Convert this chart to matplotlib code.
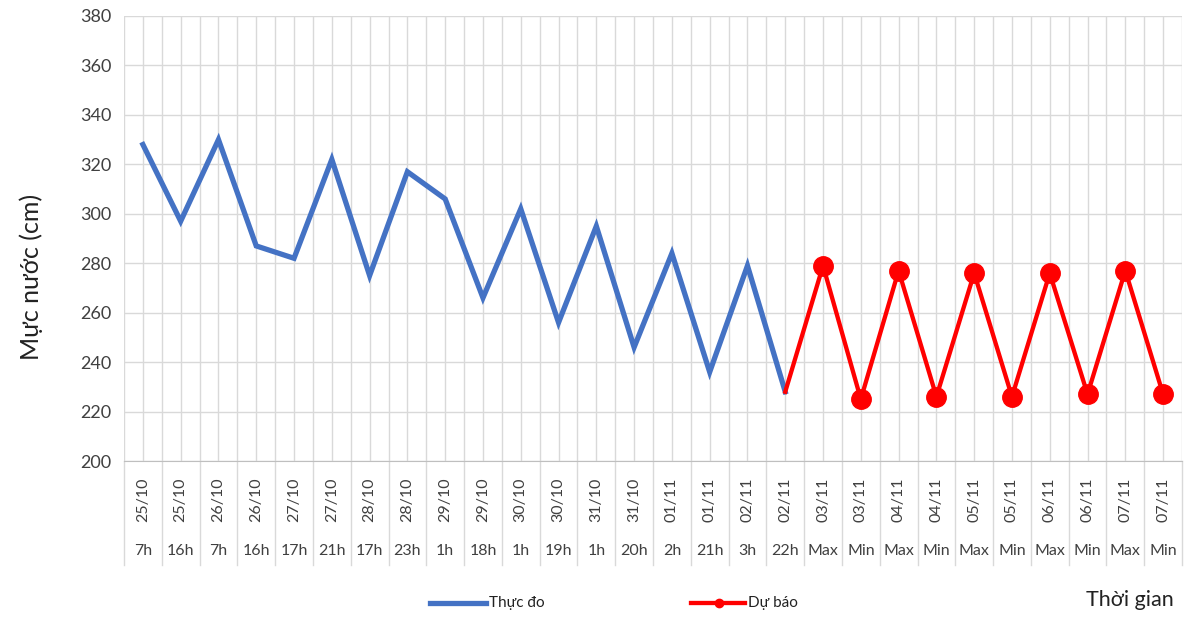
import matplotlib
matplotlib.use("Agg")
import matplotlib.pyplot as plt
from matplotlib.lines import Line2D
import numpy as np

plt.rcParams['font.family'] = ['Lato', 'DejaVu Sans']

dates = ["25/10", "25/10", "26/10", "26/10", "27/10", "27/10", "28/10", "28/10",
         "29/10", "29/10", "30/10", "30/10", "31/10", "31/10", "01/11", "01/11",
         "02/11", "02/11", "03/11", "03/11", "04/11", "04/11", "05/11", "05/11",
         "06/11", "06/11", "07/11", "07/11"]
hours = ["7h", "16h", "7h", "16h", "17h", "21h", "17h", "23h", "1h", "18h", "1h",
         "19h", "1h", "20h", "2h", "21h", "3h", "22h", "Max", "Min", "Max", "Min",
         "Max", "Min", "Max", "Min", "Max", "Min"]
observed = [328, 297, 330, 287, 282, 322, 275, 317, 306, 266, 302, 256, 295, 246,
            284, 236, 279, 228]
forecast_start = 228
forecast = [279, 225, 277, 226, 276, 226, 276, 227, 277, 227]

W, H = 1192, 617
fig = plt.figure(figsize=(W / 100, H / 100), dpi=100)
x0, x1, ytop, ybot = 124, 1182, 16, 461
ax = fig.add_axes([x0 / W, 1 - ybot / H, (x1 - x0) / W, (ybot - ytop) / H])

n = len(dates)
xo = np.arange(len(observed))
xf = np.arange(len(observed) - 1, n)
yf = [forecast_start] + forecast

ax.plot(xo, observed, color="#4472C4", lw=3.8, solid_joinstyle="miter", zorder=3)
ax.plot(xf, yf, color="#FF0000", lw=3.1, zorder=3)
ax.plot(xf[1:], forecast, ls="none", marker="o", ms=14, color="#FF0000", zorder=4)

ax.set_xlim(-0.5, n - 0.5)
ax.set_ylim(200, 380)
ax.set_yticks(np.arange(200, 381, 20))
ax.set_xticks(np.arange(-0.5, n, 0.5))
ax.set_xticklabels([])
ax.tick_params(axis="x", length=0)
ax.tick_params(axis="y", length=0, labelsize=13, colors="#404040", pad=9)
ax.grid(True, color="#d9d9d9", lw=1.0)
ax.set_axisbelow(True)
for s in ["top", "right", "left"]:
    ax.spines[s].set_visible(False)
ax.spines["bottom"].set_color("#bfbfbf")

axh = ybot - ytop
sep_bot = -(565 - ybot) / axh
for k in range(n + 1):
    ax.plot([k - 0.5, k - 0.5], [0, sep_bot], transform=ax.get_xaxis_transform(),
            color="#d9d9d9", lw=1.0, clip_on=False)
for i in range(n):
    ax.text(i, -(500 - ybot) / axh, dates[i], rotation=90, ha="center", va="center",
            fontsize=11.5, color="#404040", transform=ax.get_xaxis_transform())
    ax.text(i, -(551 - ybot) / axh, hours[i], ha="center", va="center",
            fontsize=11.5, color="#404040", transform=ax.get_xaxis_transform())

fig.text(31 / W, 1 - 277 / H, "Mực nước (cm)", rotation=90, ha="center", va="center",
         fontsize=18, color="#222222")
fig.text(1130 / W, 1 - 600 / H, "Thời gian", ha="center", va="center",
         fontsize=15.5, color="#222222")

ly = 1 - 603 / H
fig.add_artist(Line2D([430 / W, 486 / W], [ly, ly], color="#4472C4", lw=3.8))
fig.text(489 / W, ly, "Thực đo", ha="left", va="center", fontsize=11, color="#222222")
fig.add_artist(Line2D([691 / W, 745 / W], [ly, ly], color="#FF0000", lw=3.1))
fig.add_artist(Line2D([719 / W], [ly], color="#FF0000", marker="o", ms=6, ls="none"))
fig.text(748 / W, ly, "Dự báo", ha="left", va="center", fontsize=11, color="#222222")

fig.savefig("out.png", dpi=100)
